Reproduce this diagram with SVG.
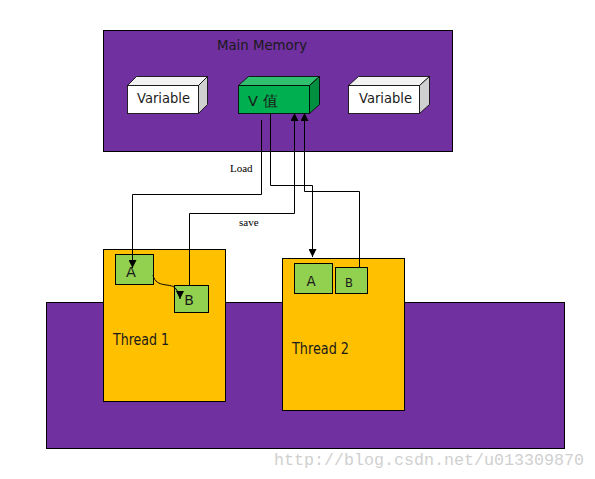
<svg xmlns="http://www.w3.org/2000/svg" width="595" height="479" viewBox="0 0 595 479">
<style>
.box{stroke:#000;stroke-width:1}
.purple{fill:#7030A0}
.yellow{fill:#FFC000}
.lg{fill:#92D050}
.t{font-family:"DejaVu Sans","Liberation Sans",sans-serif;fill:#1a1a1a}
.s{font-family:"Liberation Serif",serif;fill:#000;font-size:11px}
.c{fill:none;stroke:#000;stroke-width:1}
</style>
<defs>
<marker id="ah" viewBox="0 0 10 10" refX="10" refY="5" markerWidth="8" markerHeight="8" markerUnits="userSpaceOnUse" orient="auto">
<path d="M0,0 L10,5 L0,10 z" fill="#000"/>
</marker>
</defs>
<rect width="595" height="479" fill="#fff"/>
<g id="main-memory">
<rect class="box purple" x="103.5" y="30.5" width="349" height="121"/>
<text class="t" x="217" y="50" font-size="14" textLength="90" lengthAdjust="spacingAndGlyphs">Main Memory</text>
</g>
<g id="var1">
<polygon points="127.5,85.5 136.5,76.5 207.5,76.5 198.5,85.5" fill="#f2f2f2" stroke="#000" stroke-width="0.8"/>
<polygon points="198.5,85.5 207.5,76.5 207.5,104.5 198.5,113.5" fill="#d0d0d0" stroke="#000" stroke-width="0.8"/>
<rect x="127.5" y="85.5" width="71" height="28" fill="#fff" stroke="#000" stroke-width="0.8"/>
<text class="t" x="137" y="103" font-size="14.5" textLength="53" lengthAdjust="spacingAndGlyphs">Variable</text>
</g>
<g id="v-value">
<polygon points="238.5,85.5 248.5,76.5 319.5,76.5 309.5,85.5" fill="#2fc070" stroke="#000" stroke-width="0.8"/>
<polygon points="309.5,85.5 319.5,76.5 319.5,104.5 309.5,113.5" fill="#009040" stroke="#000" stroke-width="0.8"/>
<rect x="238.5" y="85.5" width="71" height="28" fill="#00B050" stroke="#000" stroke-width="0.8"/>
<text class="t" x="248" y="106" font-size="14.5" font-family="'DejaVu Sans','Noto Sans CJK SC',sans-serif">V 值</text>
</g>
<g id="var2">
<polygon points="348.5,85.5 358.5,76.5 429.5,76.5 419.5,85.5" fill="#f2f2f2" stroke="#000" stroke-width="0.8"/>
<polygon points="419.5,85.5 429.5,76.5 429.5,104.5 419.5,113.5" fill="#d0d0d0" stroke="#000" stroke-width="0.8"/>
<rect x="348.5" y="85.5" width="71" height="28" fill="#fff" stroke="#000" stroke-width="0.8"/>
<text class="t" x="359" y="103" font-size="14.5" textLength="53" lengthAdjust="spacingAndGlyphs">Variable</text>
</g>
<g id="cpu-area">
<rect class="box purple" x="46.5" y="302.5" width="518" height="146"/>
</g>
<g id="thread1">
<rect class="box yellow" x="103.5" y="249.5" width="122" height="152"/>
<text class="t" x="113" y="345" font-size="15.5" textLength="56" lengthAdjust="spacingAndGlyphs">Thread 1</text>
</g>
<g id="thread1-a">
<rect class="box lg" x="115.5" y="254.5" width="38" height="30"/>
<text class="t" x="131" y="277" font-size="14.5" text-anchor="middle">A</text>
</g>
<g id="thread1-b">
<rect class="box lg" x="174.5" y="285.5" width="34" height="27"/>
<text class="t" x="189" y="305" font-size="14" text-anchor="middle">B</text>
</g>
<g id="thread2">
<rect class="box yellow" x="282.5" y="258.5" width="122" height="152"/>
<text class="t" x="292" y="354" font-size="15.5" textLength="57" lengthAdjust="spacingAndGlyphs">Thread 2</text>
</g>
<g id="thread2-a">
<rect class="box lg" x="294.5" y="263.5" width="38" height="30"/>
<text class="t" x="311" y="286" font-size="13.5" text-anchor="middle">A</text>
</g>
<g id="thread2-b">
<rect class="box lg" x="335.5" y="267.5" width="32" height="26"/>
<text class="t" x="349" y="287" font-size="11.5" text-anchor="middle">B</text>
</g>
<g id="connectors">
<path class="c" d="M261.5,120 V194.5 H132.5 V268" marker-end="url(#ah)"/>
<path class="c" d="M270.5,113.5 V185.5 H312.5 V257" marker-end="url(#ah)"/>
<path class="c" d="M189.5,285 V213.5 H294.5 V113" marker-end="url(#ah)"/>
<path class="c" d="M359.5,267 V191.5 H304.5 V113" marker-end="url(#ah)"/>
<path class="c" d="M153,275 C156,289 172,282 176,289 C179,293 180,296 180,299" marker-end="url(#ah)"/>
<text class="s" x="230" y="172">Load</text>
<text class="s" x="239" y="226">save</text>
</g>
<text x="274" y="465" font-family="'Liberation Mono',monospace" font-size="16.5" fill="#d0d0d0" textLength="310" lengthAdjust="spacingAndGlyphs">http://blog.csdn.net/u013309870</text>
</svg>
